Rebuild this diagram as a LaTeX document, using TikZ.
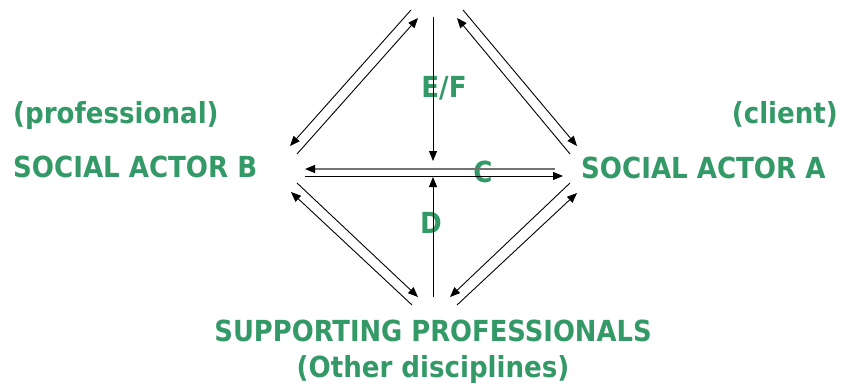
\documentclass[tikz,border=0pt]{standalone}
\usepackage{fontspec}
\setmainfont{DejaVu Sans Condensed}[BoldFont={DejaVu Sans Condensed Bold}]
\usetikzlibrary{arrows.meta}
\definecolor{lbl}{RGB}{51,153,102}
\tikzset{
  lab/.style={inner sep=0pt, text=lbl, font=\fontsize{29}{32}\selectfont\bfseries},
  arr/.style={line width=0.9pt, -{Triangle[length=10pt,width=8pt]}},
  garr/.style={line width=1.2pt, draw=black!55, -{Triangle[length=10pt,width=8pt,color=black]}}
}
\begin{document}
\begin{tikzpicture}[x=1pt,y=-1pt]
\useasboundingbox (0,0) rectangle (843,388);
% labels
\node[lab, anchor=base west] (prof) at (13,123) {(professional)};
\node[lab, anchor=base west] (actB) at (13,177) {SOCIAL ACTOR B};
\node[lab, anchor=base east] (cli) at (838,123) {(client)};
\node[lab, anchor=base west] (actA) at (581,178) {SOCIAL ACTOR A};
\node[lab, anchor=base, xscale=0.99] (sup) at (433,341) {SUPPORTING PROFESSIONALS};
\node[lab, anchor=base] (oth) at (433,377) {(Other disciplines)};
\node[lab, anchor=base] (ef) at (444,97) {E/F};
\node[lab, anchor=base] (c) at (483,182) {C};
\node[lab, anchor=base] (d) at (431,233) {D};
% endpoints
\coordinate (tl1s) at (411,10);  \coordinate (tl1e) at (290,146);
\coordinate (tl2s) at (297,154); \coordinate (tl2e) at (418,18);
\coordinate (tr1s) at (463,10);  \coordinate (tr1e) at (577,146);
\coordinate (tr2s) at (570,154); \coordinate (tr2e) at (457,18);
\coordinate (vts) at (433,17);   \coordinate (vte) at (433,161);
\coordinate (hgs) at (555,169);  \coordinate (hge) at (305,169);
\coordinate (hbs) at (305,176);  \coordinate (hbe) at (563,176);
\coordinate (vbs) at (433,297);  \coordinate (vbe) at (433,177);
\coordinate (bl1s) at (297,183); \coordinate (bl1e) at (418,297);
\coordinate (bl2s) at (412,305); \coordinate (bl2e) at (291,192);
\coordinate (br1s) at (570,183); \coordinate (br1e) at (450,297);
\coordinate (br2s) at (457,305); \coordinate (br2e) at (577,193);
% connectors
\draw[arr] (tl1s) -- (tl1e);
\draw[arr] (tl2s) -- (tl2e);
\draw[arr] (tr1s) -- (tr1e);
\draw[arr] (tr2s) -- (tr2e);
\draw[arr] (vts) -- (vte);
\draw[garr] (hgs) -- (hge);
\draw[arr] (hbs) -- (hbe);
\draw[arr] (vbs) -- (vbe);
\draw[arr] (bl1s) -- (bl1e);
\draw[arr] (bl2s) -- (bl2e);
\draw[arr] (br1s) -- (br1e);
\draw[arr] (br2s) -- (br2e);
\end{tikzpicture}
\end{document}
